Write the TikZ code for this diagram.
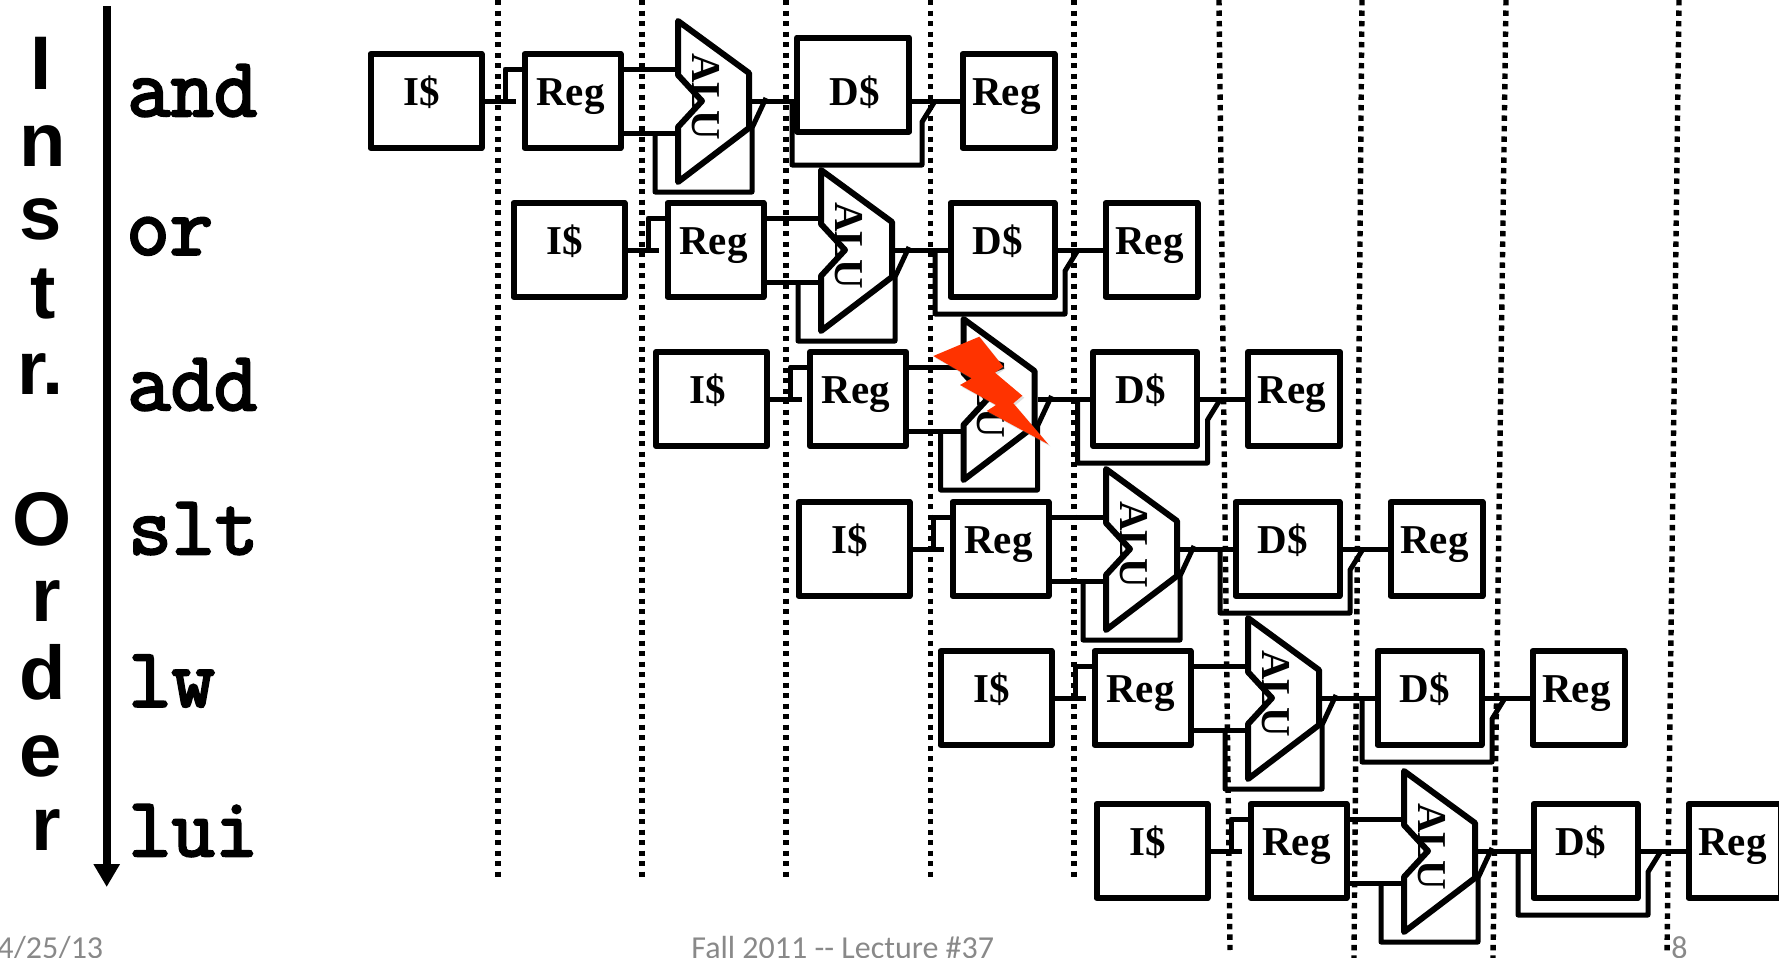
\documentclass[tikz,border=0pt]{standalone}
\usepackage{fontspec}
\usetikzlibrary{arrows.meta,shadows}
\newfontfamily\timesf{Liberation Serif}
\newfontfamily\sansf{Liberation Sans}
\newfontfamily\footf{Carlito}
\newfontfamily\monof[FakeBold=3]{Latin Modern Mono}
\definecolor{footgray}{HTML}{898989}
\definecolor{boltred}{HTML}{FF3300}
\tikzset{
  px/.style={x=.5pt,y=-.5pt},
  dotline/.style={line width=2.7pt,dash pattern=on 2.7pt off 2.55pt},
  wire/.style={line width=2.5pt,line join=round},
  thinwire/.style={line width=2.5pt,line join=round},
  stagebox/.style={draw,line width=3pt,line join=round,inner sep=0pt,minimum height=47pt},
  alushape/.style={draw,line width=3pt,line join=round},
  steplbl/.style={font=\timesf\bfseries\fontsize{20.5}{24}\selectfont,anchor=base,inner sep=0pt},
  alulbl/.style={font=\timesf\bfseries\fontsize{20.5}{24}\selectfont,anchor=base,rotate=-90,inner sep=0pt},
  instr/.style={font=\monof\fontsize{42}{44}\selectfont,anchor=base west,inner sep=0pt},
  order/.style={font=\sansf\bfseries\fontsize{38}{40}\selectfont,anchor=base,inner sep=0pt},
  foot/.style={font=\footf\fontsize{16}{18}\selectfont,text=footgray,anchor=base west,inner sep=0pt},
}
\begin{document}
\begin{tikzpicture}[px]
\useasboundingbox (0,0) rectangle (1779,958);
% dotted clock lines
\foreach \k/\xa/\xb/\yb in {1/498/498/877,2/642/642/877,3/786/786/877,4/930.5/930.5/877,5/1074/1074/877,6/1219/1230/950,7/1362/1354/958,8/1506/1493/958,9/1679/1667/953}{
  \coordinate (Ta\k) at (\xa,0);
  \coordinate (Tb\k) at (\xb,\yb);
  \draw[dotline] (Ta\k) -- (Tb\k);
}
% pipeline rows
\foreach \n/\dx/\dy/\dc/\dv/\dw/\wx in {1/0/0/853/84.5/56/2.5,2/143/149/859.5/101/52/0,3/285.5/298/859.5/101/52/0,4/428/448/859.5/101/52/0,5/570/597/859.5/101/52/0,6/726/750/859.5/101/52/0}{
\begin{scope}[shift={(\dx,\dy)}]
  \node[stagebox,minimum width=55.5pt] (I\n) at (426,101) {};
  \node[stagebox,minimum width=48pt] (R\n) at (572.5,101) {};
  \node[stagebox,minimum width=\dw pt] (D\n) at (\dc,\dv) {};
  \node[stagebox,minimum width=46pt] (W\n) at (1008.5,101) {};
  \node[steplbl] (Il\n) at (422,105.5) {I\$};
  \node[steplbl] (Rl\n) at (570.5,105.5) {Reg};
  \node[steplbl] (Dl\n) at (855,105.5) {D\$};
  \node[steplbl] (Wl\n) at (1006.5,105.5) {Reg};
  \node[alulbl] (Al\n) at (692,96.5) {ALU};
  \coordinate (au\n) at (678,69);
  \coordinate (ad\n) at (678,133);
  \coordinate (ao\n) at (752,101);
  \coordinate (tp\n) at (516,101);
  \coordinate (rs\n) at (505,101);
  \coordinate (by\n) at (655,133);
  \coordinate (ls\n) at (792,101);
  \coordinate (dt\n) at (935,101);
  \draw[alushape] (678,21) -- (749,73) -- (749,128) -- (678,182) -- (678,127) -- (702,101) -- (678,75) -- cycle;
  % instruction fetch to register
  \draw[wire] (I\n.east) -- (tp\n);
  \draw[thinwire] (rs\n) -- (505,69) -- (R\n.west |- au\n);
  % register to ALU
  \draw[thinwire] (R\n.east |- au\n) -- (au\n);
  \draw[thinwire] (R\n.east |- ad\n) -- (ad\n);
  % ALU bypass
  \draw[thinwire] (by\n) -- (655,192) -- (752,192) -- (752,128) -- (766,98);
  % ALU to data cache
  \draw[wire] (ao\n) -- ([xshift=\wx pt]D\n.west |- ao\n);
  % data cache bypass
  \draw[thinwire] (ls\n) -- (792,165) -- (922,165) -- (922,122) -- (dt\n);
  % data cache to register
  \draw[wire] (D\n.east |- W\n.west) -- (W\n.west);
\end{scope}
}
% hazard bolt
\fill[boltred,drop shadow={shadow xshift=1pt,shadow yshift=-1pt,opacity=.25}]
  (933.3,356) -- (979.3,336.7) -- (1003.3,366.7) -- (995,372.7) -- (1022.3,395.7) -- (1013.3,403.3) -- (1048.3,444.3) -- (986.7,411) -- (996,405) -- (960,385) -- (971.7,378.3) -- cycle;
% time arrow
\coordinate (ArrTop) at (106.7,6);
\coordinate (ArrTip) at (106.7,887);
\draw[line width=4pt,-{Triangle[width=12.5pt,length=11.5pt]}] (ArrTop) -- (ArrTip);
% instructions
\node[instr] (i1) at (127,116) {and};
\node[instr] (i2) at (126,254.5) {or};
\node[instr] (i3) at (127,410) {add};
\node[instr] (i4) at (128,554) {slt};
\node[instr] (i5) at (128,706.5) {lw};
\node[instr] (i6) at (128,856) {lui};
% vertical title
\node[order] (o1) at (41.5,90) {I};
\node[order] (o2) at (43,166) {n};
\node[order] (o3) at (41,239) {s};
\node[order] (o4) at (43,318) {t};
\node[order] (o5) at (40.5,394) {r.};
\node[order] (o6) at (41.7,545) {O};
\node[order] (o7) at (46,621) {r};
\node[order] (o8) at (43,699) {d};
\node[order] (o9) at (41,776) {e};
\node[order] (o10) at (46,850) {r};
% footer
\node[foot] (f1) at (-3,958) {4/25/13};
\node[foot] (f2) at (691,958) {Fall 2011 -- Lecture \#37};
\node[foot] (f3) at (1671,958) {8};
\end{tikzpicture}
\end{document}
